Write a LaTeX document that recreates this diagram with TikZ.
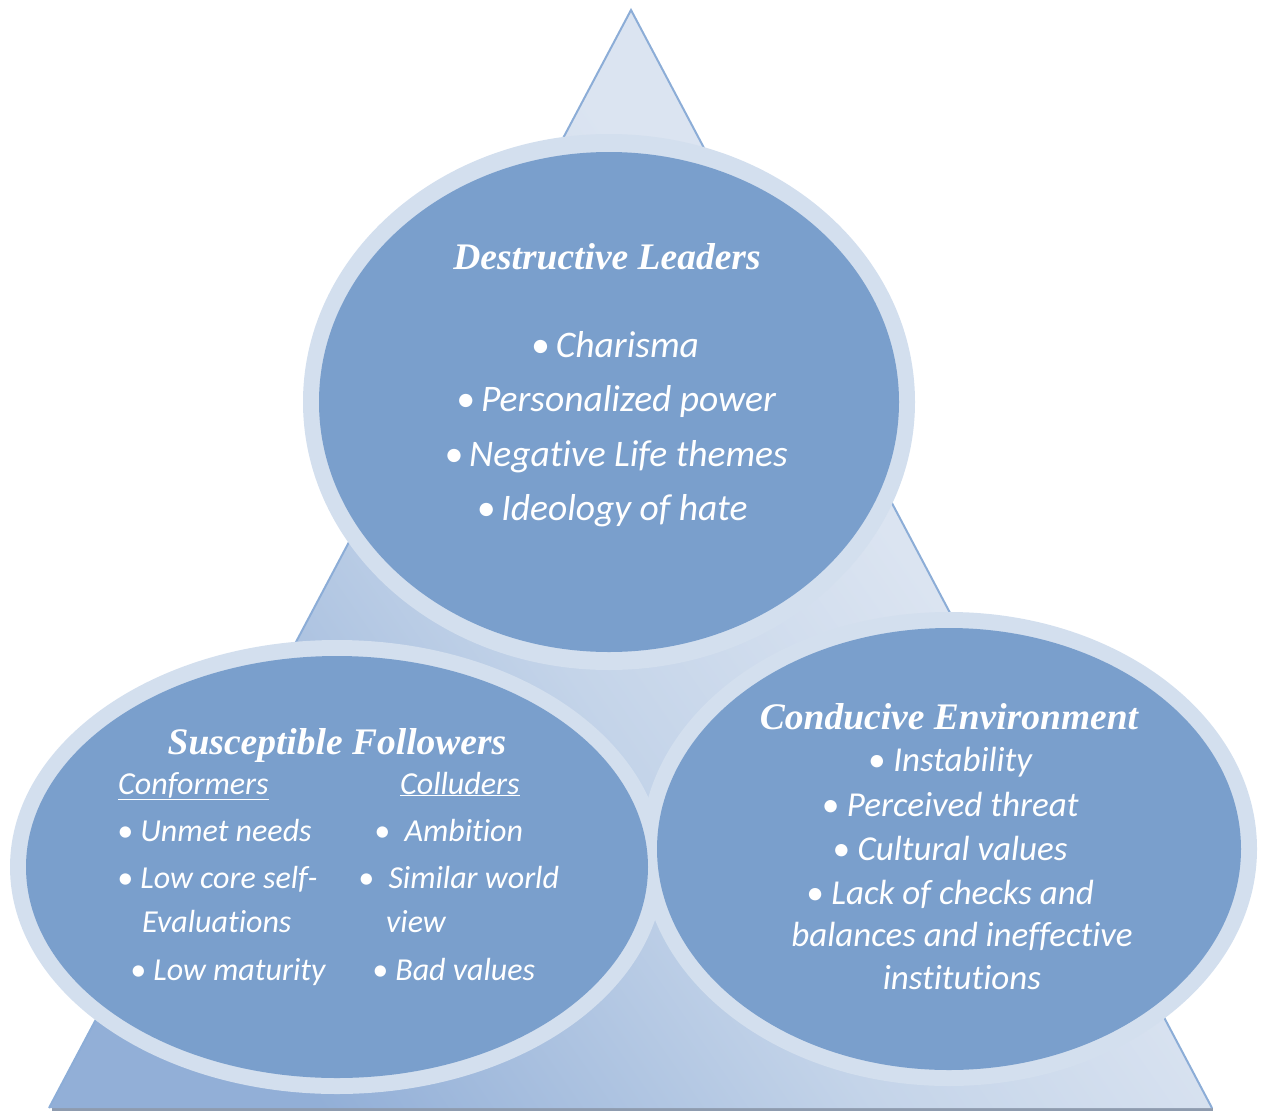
\documentclass[tikz,border=0pt]{standalone}
\usepackage{fontspec}
\setmainfont{Carlito}[Ligatures=NoCommon]
\newfontfamily\titlefont{Liberation Serif}
\definecolor{innerblue}{HTML}{7A9FCC}
\definecolor{ringblue}{HTML}{D3DFEE}
\definecolor{triedge}{HTML}{8CADD7}
\definecolor{tridark}{HTML}{92AFD7}
\definecolor{trimid}{HTML}{C4D4E9}
\definecolor{trilight}{HTML}{DBE4F1}
\definecolor{basegrey}{HTML}{8E9BAE}
\pgfdeclarehorizontalshading{trishade}{100bp}{color(0bp)=(tridark); color(25bp)=(tridark); color(45bp)=(trimid); color(60bp)=(trilight); color(100bp)=(trilight)}
\begin{document}
\begin{tikzpicture}[x=1pt,y=-1pt,
  ttl/.style={font=\titlefont\bfseries\itshape\fontsize{37.5}{40}\selectfont, text=white, inner sep=0pt, anchor=base},
  itm/.style={font=\itshape\fontsize{37.5}{40}\selectfont, text=white, inner sep=0pt, anchor=base},
  itmr/.style={itm, font=\itshape\fontsize{35}{40}\selectfont},
  itmw/.style={itm, font=\itshape\fontsize{32}{38}\selectfont, anchor=base west},
]
\useasboundingbox (0,0) rectangle (1264,1111);
% triangle
\coordinate (apex) at (631,10);
\coordinate (bl) at (49,1108);
\coordinate (br) at (1212,1108);
\draw[basegrey, line width=2.5pt] ([shift={(3,1.5)}]bl) -- ([shift={(1,1.5)}]br);
\shade[shading=trishade, shading angle=35] (apex) -- (br) -- (bl) -- cycle;
\draw[triedge, line width=2pt, line join=miter] (bl) -- (apex) -- (br);
% ellipse centres
\coordinate (ctop) at (609,402);
\coordinate (cleft) at (337,867);
\coordinate (cright) at (949,849);
% rings
\fill[ringblue] (ctop) ellipse [x radius=306, y radius=268];
\fill[ringblue] (cleft) ellipse [x radius=327, y radius=227];
\fill[ringblue] (cright) ellipse [x radius=308, y radius=237];
% inner fills
\fill[innerblue] (ctop) ellipse [x radius=290, y radius=250];
\fill[innerblue] (cleft) ellipse [x radius=311, y radius=211];
\fill[innerblue] (cright) ellipse [x radius=292, y radius=221];
% top texts
\node[ttl] (tTitle) at (607,269) {Destructive Leaders};
\node[itm] (t1) at (615,357) {\textbullet\,Charisma};
\node[itm] (t2) at (616,411) {\textbullet\,Personalized power};
\node[itm] (t3) at (616,466) {\textbullet\,Negative Life themes};
\node[itm] (t4) at (612,520) {\textbullet\,Ideology of hate};
% left texts
\node[ttl] (lTitle) at (337,754) {Susceptible Followers};
\node[itmw] (lh1) at (118,794) {\underline{Conformers}};
\node[itmw] (lh2) at (400,794) {\underline{Colluders}};
\node[itmw] (l1) at (117,841) {\textbullet\ Unmet needs};
\node[itmw] (l2) at (117,888) {\textbullet\ Low core self-};
\node[itmw] (l3) at (142,932) {Evaluations};
\node[itmw] (l4) at (130,980) {\textbullet\ Low maturity};
\node[itmw] (r1) at (374,841) {\textbullet\hspace{0.45em}Ambition};
\node[itmw] (r2) at (358,888) {\textbullet\hspace{0.45em}Similar world};
\node[itmw] (r3) at (386,932) {view};
\node[itmw] (r4) at (372,980) {\textbullet\ Bad values};
% right texts
\node[ttl] (rTitle) at (949,729) {Conducive Environment};
\node[itmr] (e1) at (950,771) {\textbullet\ Instability};
\node[itmr] (e2) at (950,816) {\textbullet\ Perceived threat};
\node[itmr] (e3) at (950,860) {\textbullet\ Cultural values};
\node[itmr] (e4) at (950,904) {\textbullet\ Lack of checks and};
\node[itmr] (e5) at (962,946) {balances and ineffective};
\node[itmr] (e6) at (962,989) {institutions};
\end{tikzpicture}
\end{document}
